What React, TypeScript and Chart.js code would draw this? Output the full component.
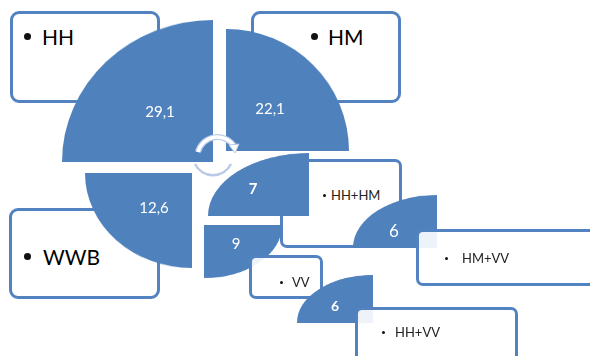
import React, { useEffect, useRef } from "react";
import { Chart, registerables } from "chart.js";
Chart.register(...registerables);

// ---- data ----
const categories = ["HH", "HM", "WWB", "HH+HM", "VV", "HM+VV", "HH+VV"];
const values = [29.1, 22.1, 12.6, 7, 9, 6, 6];
const valueLabels = values.map((v) => String(v).replace(".", ","));

// ---- layout (positions / sizes only) ----
type Quad = "TL" | "TR" | "BL" | "BR";
const sectorQuad: Quad[] = ["TL", "TR", "BL", "TL", "BR", "TL", "TL"];
const sectorCenter = [
  [213, 162], [226, 151], [192, 173], [309, 216], [204, 225], [437, 248], [373, 323],
];
const sectorRadii = [
  [151, 142], [123, 122], [107, 95], [101, 63], [78, 53], [84, 53], [76, 48],
];
const sectorZ = [2, 2, 2, 4, 4, 4, 7];
const labelPos = [
  [160, 111], [270, 108], [154, 207], [253, 188], [236, 243], [394, 230], [335, 306],
];
const labelSize = [15, 15, 15, 15, 15, 17, 14];
const labelWeight = [400, 400, 400, 700, 400, 400, 700];

// boxes: x, y, w, h
const boxRect = [
  [10, 11, 150, 92], [251, 11, 150, 92], [9, 208, 151, 91],
  [280, 159, 122, 89], [249, 255, 74, 44], [416, 229, 190, 57], [355, 307, 163, 60],
];
// bullet x, text x, center y
const boxText = [
  [24, 42, 36], [311, 328, 36], [24, 43, 256], [323, 331, 195], [280, 292, 282], [445, 462, 258], [382, 395, 332],
];
const boxFont = [21, 21, 21, 13, 13, 13, 13];
const boxZ = [1, 1, 1, 3, 5, 6, 8];

const BLUE = "#4F81BD";
const rotationOf: Record<Quad, number> = { TL: 270, TR: 0, BR: 90, BL: 180 };

function Sector({ i }: { i: number }) {
  const ref = useRef<HTMLCanvasElement>(null);
  const quad = sectorQuad[i];
  const [cx, cy] = sectorCenter[i];
  const [rx, ry] = sectorRadii[i];
  useEffect(() => {
    const chart = new Chart(ref.current!, {
      type: "pie",
      data: {
        labels: [categories[i]],
        datasets: [{ data: [values[i]], backgroundColor: BLUE, borderWidth: 0 }],
      },
      options: {
        animation: false,
        responsive: true,
        maintainAspectRatio: false,
        rotation: rotationOf[quad],
        circumference: 90,
        events: [],
        layout: { padding: 0 },
        plugins: { legend: { display: false }, tooltip: { enabled: false } },
      },
    });
    return () => chart.destroy();
  }, []);
  const left = quad === "TL" || quad === "BL" ? cx - rx : cx;
  const top = quad === "TL" || quad === "TR" ? cy - ry : cy;
  return (
    <div style={{ position: "absolute", left, top, width: rx, height: ry, zIndex: sectorZ[i] }}>
      <div
        style={{
          position: "relative",
          width: rx,
          height: rx,
          transform: `scale(1, ${ry / rx})`,
          transformOrigin: "0 0",
        }}
      >
        <canvas ref={ref} />
      </div>
    </div>
  );
}

function Box({ i }: { i: number }) {
  const [x, y, w, h] = boxRect[i];
  const [bx, tx, ty] = boxText[i];
  const big = boxFont[i] > 15;
  const dot = big ? 7 : 3;
  return (
    <>
      <div
        style={{
          position: "absolute",
          left: x,
          top: y,
          width: w,
          height: h,
          boxSizing: "border-box",
          border: "3px solid #5283C0",
          borderRadius: big ? 9 : 7,
          background: "rgba(255,255,255,0.9)",
          zIndex: boxZ[i],
        }}
      />
      <div
        style={{
          position: "absolute",
          left: bx,
          top: ty - dot / 2,
          width: dot,
          height: dot,
          borderRadius: "50%",
          background: "#111",
          zIndex: boxZ[i],
        }}
      />
      <div
        style={{
          position: "absolute",
          left: tx,
          top: ty,
          transform: "translateY(-50%)",
          fontFamily: "Lato, 'Open Sans', sans-serif",
          fontSize: boxFont[i],
          color: big ? "#000" : "#222",
          whiteSpace: "nowrap",
          lineHeight: 1,
          zIndex: boxZ[i],
        }}
      >
        {categories[i]}
      </div>
    </>
  );
}

function Arrows() {
  return (
    <svg
      width={80}
      height={60}
      style={{ position: "absolute", left: 176, top: 126, zIndex: 3 }}
      viewBox="176 126 80 60"
    >
      <path d="M198 152 A20 20 0 0 1 234 146" fill="none" stroke="#B8CBE6" strokeWidth={6} />
      <path d="M198 152 A20 20 0 0 1 234 146" fill="none" stroke="#FFFFFF" strokeWidth={3.5} />
      <path d="M229 145 L239 144 L235 153 Z" fill="#FFFFFF" stroke="#B8CBE6" strokeWidth={1} />
      <path d="M195 164 A20 20 0 0 0 231 164" fill="none" stroke="#B9CBE5" strokeWidth={2.5} />
    </svg>
  );
}

export default function App() {
  return (
    <div
      style={{
        position: "fixed",
        left: 0,
        top: 0,
        width: 590,
        height: 356,
        overflow: "hidden",
        background: "#fff",
      }}
    >
      {boxRect.map((_, i) => (
        <Box key={"b" + i} i={i} />
      ))}
      {categories.map((_, i) => (
        <Sector key={"s" + i} i={i} />
      ))}
      <Arrows />
      {valueLabels.map((t, i) => (
        <div
          key={"l" + i}
          style={{
            position: "absolute",
            left: labelPos[i][0],
            top: labelPos[i][1],
            transform: "translate(-50%, -50%)",
            fontFamily: "Lato, 'Open Sans', sans-serif",
            fontSize: labelSize[i],
            fontWeight: labelWeight[i],
            color: "#fff",
            lineHeight: 1,
            whiteSpace: "nowrap",
            zIndex: 10,
          }}
        >
          {t}
        </div>
      ))}
    </div>
  );
}
